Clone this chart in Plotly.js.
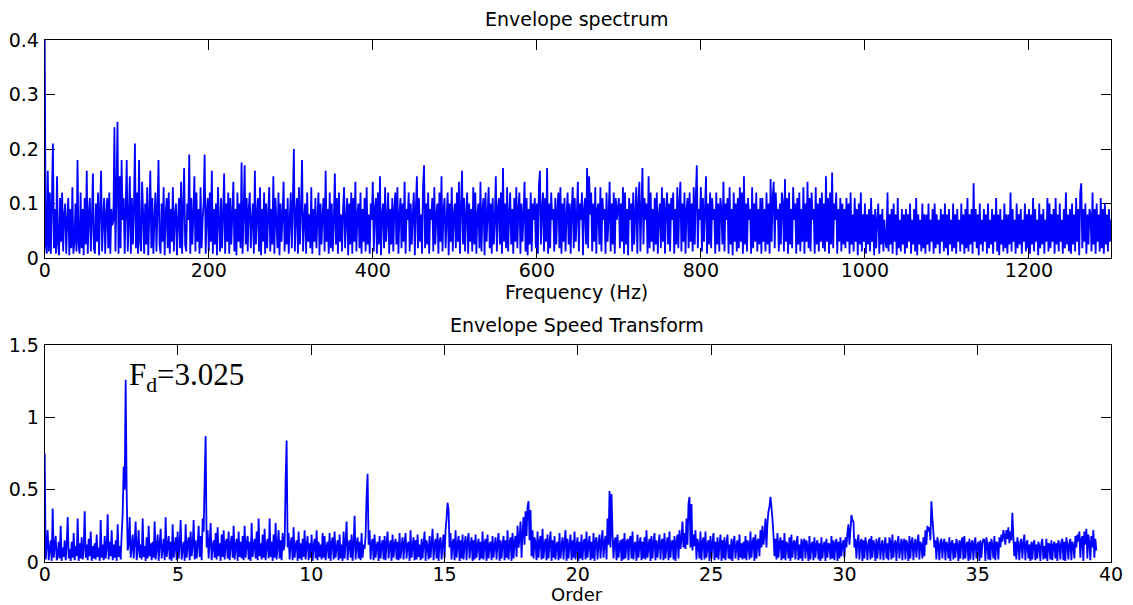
<!DOCTYPE html>
<html>
<head>
<meta charset="utf-8">
<script src="https://cdn.plot.ly/plotly-3.0.1.min.js"></script>
<style>html,body{margin:0;padding:0;background:#fff;}#chart{width:1133px;height:605px;}</style>
</head>
<body>
<div id="chart"></div>
<script>
// Envelope spectrum: amplitude every 1.25 Hz from 0 to 1300 Hz
const freqStart = 0;
const freqStep = 1.25;
const envSpectrum = [
0.40,0.025,0.008,0.16,0.012,0.12,0.008,0.10,0.21,0.018,0.09,0.008,0.15,0.025,0.005,0.11,0.03,0.12,0.012,0.08,
0.10,0.008,0.07,0.11,0.005,0.09,0.018,0.13,0.008,0.03,0.10,0.012,0.18,0.025,0.008,0.12,0.018,0.09,0.005,0.11,
0.025,0.16,0.008,0.08,0.11,0.012,0.07,0.155,0.018,0.008,0.10,0.03,0.12,0.005,0.09,0.16,0.012,0.07,0.11,0.008,
0.08,0.11,0.018,0.12,0.008,0.09,0.06,0.07,0.24,0.012,0.12,0.25,0.008,0.15,0.018,0.18,0.07,0.11,0.008,0.09,
0.18,0.012,0.07,0.15,0.008,0.11,0.025,0.09,0.21,0.018,0.12,0.008,0.18,0.03,0.012,0.14,0.08,0.008,0.10,0.025,
0.13,0.005,0.08,0.16,0.018,0.11,0.008,0.07,0.12,0.012,0.09,0.18,0.025,0.008,0.10,0.03,0.13,0.005,0.08,0.11,
0.018,0.12,0.008,0.09,0.03,0.13,0.012,0.08,0.10,0.005,0.07,0.11,0.018,0.14,0.008,0.09,0.165,0.025,0.012,0.10,
0.07,0.19,0.008,0.11,0.025,0.08,0.15,0.012,0.12,0.03,0.09,0.008,0.13,0.018,0.07,0.10,0.19,0.008,0.08,0.11,
0.012,0.12,0.03,0.16,0.008,0.09,0.025,0.10,0.005,0.13,0.07,0.012,0.11,0.018,0.08,0.155,0.008,0.10,0.03,0.12,
0.008,0.11,0.025,0.08,0.14,0.012,0.09,0.005,0.12,0.03,0.10,0.018,0.175,0.008,0.08,0.17,0.025,0.11,0.012,0.09,
0.12,0.018,0.07,0.10,0.008,0.16,0.025,0.08,0.11,0.012,0.13,0.005,0.09,0.03,0.12,0.008,0.10,0.018,0.08,0.13,
0.012,0.09,0.025,0.15,0.008,0.11,0.07,0.018,0.12,0.005,0.10,0.03,0.08,0.14,0.012,0.09,0.025,0.11,0.008,0.07,
0.12,0.018,0.10,0.20,0.012,0.08,0.11,0.008,0.13,0.025,0.09,0.18,0.012,0.07,0.10,0.008,0.12,0.03,0.08,0.018,
0.13,0.008,0.09,0.03,0.11,0.018,0.07,0.12,0.005,0.10,0.025,0.08,0.11,0.012,0.16,0.03,0.09,0.008,0.12,0.018,
0.10,0.012,0.07,0.155,0.025,0.11,0.008,0.12,0.03,0.08,0.012,0.09,0.13,0.018,0.07,0.11,0.005,0.10,0.025,0.12,
0.008,0.11,0.03,0.14,0.012,0.08,0.10,0.018,0.12,0.008,0.09,0.03,0.11,0.012,0.13,0.025,0.08,0.008,0.10,0.07,
0.14,0.012,0.09,0.11,0.008,0.12,0.025,0.15,0.005,0.08,0.10,0.018,0.13,0.03,0.07,0.12,0.008,0.09,0.025,0.11,
0.012,0.09,0.12,0.025,0.13,0.008,0.08,0.11,0.018,0.10,0.03,0.14,0.008,0.09,0.07,0.12,0.012,0.10,0.025,0.08,
0.12,0.005,0.09,0.15,0.018,0.11,0.03,0.08,0.008,0.13,0.17,0.018,0.10,0.025,0.12,0.008,0.09,0.07,0.11,0.012,
0.13,0.025,0.08,0.10,0.008,0.12,0.03,0.15,0.012,0.09,0.11,0.018,0.07,0.12,0.005,0.10,0.03,0.13,0.012,0.08,
0.10,0.018,0.12,0.03,0.14,0.008,0.09,0.16,0.025,0.11,0.012,0.08,0.12,0.008,0.10,0.03,0.09,0.012,0.13,0.025,
0.12,0.008,0.08,0.10,0.018,0.14,0.012,0.09,0.11,0.005,0.12,0.03,0.08,0.13,0.018,0.10,0.008,0.11,0.025,0.07,
0.15,0.012,0.09,0.11,0.025,0.12,0.008,0.165,0.03,0.10,0.018,0.13,0.012,0.08,0.12,0.025,0.09,0.008,0.11,0.03,
0.13,0.018,0.09,0.12,0.008,0.10,0.03,0.08,0.14,0.012,0.11,0.005,0.09,0.025,0.12,0.012,0.10,0.07,0.11,0.018,
0.10,0.008,0.13,0.16,0.025,0.09,0.12,0.012,0.11,0.03,0.165,0.008,0.10,0.018,0.12,0.07,0.09,0.012,0.11,0.025,
0.09,0.12,0.018,0.13,0.008,0.10,0.03,0.11,0.012,0.08,0.12,0.025,0.10,0.008,0.09,0.13,0.018,0.11,0.03,0.08,
0.14,0.012,0.10,0.07,0.12,0.005,0.09,0.11,0.025,0.165,0.018,0.15,0.08,0.12,0.012,0.10,0.03,0.13,0.008,0.09,
0.10,0.025,0.13,0.012,0.11,0.07,0.09,0.008,0.12,0.03,0.08,0.14,0.012,0.10,0.025,0.12,0.008,0.11,0.07,0.09,
0.11,0.018,0.10,0.03,0.13,0.008,0.12,0.025,0.09,0.005,0.11,0.07,0.10,0.012,0.12,0.025,0.08,0.13,0.008,0.10,
0.14,0.012,0.09,0.165,0.025,0.11,0.07,0.10,0.008,0.15,0.018,0.12,0.03,0.09,0.012,0.11,0.025,0.12,0.008,0.08,
0.10,0.018,0.13,0.03,0.11,0.008,0.09,0.12,0.025,0.10,0.012,0.11,0.07,0.12,0.008,0.09,0.025,0.13,0.018,0.10,
0.14,0.012,0.10,0.03,0.12,0.008,0.09,0.11,0.018,0.12,0.03,0.10,0.012,0.13,0.025,0.11,0.17,0.018,0.09,0.07,
0.13,0.012,0.11,0.03,0.09,0.15,0.008,0.10,0.025,0.12,0.018,0.11,0.07,0.09,0.008,0.12,0.025,0.10,0.012,0.11,
0.09,0.025,0.14,0.012,0.10,0.07,0.11,0.008,0.13,0.025,0.09,0.005,0.12,0.03,0.10,0.012,0.11,0.018,0.13,0.03,
0.12,0.008,0.15,0.025,0.10,0.012,0.11,0.07,0.09,0.008,0.13,0.018,0.10,0.03,0.12,0.012,0.09,0.025,0.11,0.008,
0.11,0.03,0.09,0.012,0.12,0.025,0.10,0.008,0.145,0.03,0.11,0.14,0.018,0.12,0.07,0.09,0.012,0.10,0.025,0.12,
0.10,0.012,0.145,0.03,0.11,0.008,0.12,0.025,0.09,0.018,0.13,0.07,0.10,0.008,0.11,0.025,0.12,0.012,0.09,0.03,
0.13,0.008,0.10,0.03,0.14,0.018,0.11,0.012,0.12,0.07,0.09,0.008,0.13,0.025,0.10,0.012,0.11,0.03,0.12,0.018,
0.10,0.012,0.15,0.03,0.11,0.008,0.12,0.025,0.157,0.018,0.10,0.07,0.12,0.008,0.09,0.03,0.11,0.012,0.10,0.025,
0.09,0.018,0.11,0.03,0.10,0.008,0.12,0.025,0.08,0.012,0.11,0.03,0.09,0.005,0.10,0.025,0.12,0.012,0.08,0.03,
0.10,0.008,0.08,0.025,0.09,0.012,0.11,0.03,0.08,0.005,0.09,0.018,0.07,0.10,0.008,0.08,0.025,0.09,0.012,0.07,
0.03,0.018,0.12,0.012,0.08,0.025,0.09,0.008,0.10,0.03,0.08,0.005,0.11,0.018,0.07,0.012,0.09,0.025,0.08,0.008,
0.09,0.018,0.08,0.03,0.10,0.008,0.07,0.025,0.09,0.012,0.11,0.005,0.08,0.025,0.07,0.012,0.10,0.018,0.08,0.008,
0.08,0.025,0.10,0.012,0.07,0.03,0.09,0.008,0.10,0.018,0.08,0.025,0.07,0.008,0.09,0.03,0.08,0.012,0.10,0.018,
0.08,0.005,0.09,0.025,0.07,0.012,0.10,0.018,0.08,0.008,0.09,0.03,0.07,0.012,0.10,0.025,0.08,0.008,0.09,0.018,
0.11,0.012,0.08,0.025,0.09,0.008,0.137,0.03,0.09,0.018,0.08,0.005,0.10,0.025,0.07,0.012,0.09,0.03,0.08,0.008,
0.10,0.018,0.07,0.025,0.09,0.008,0.08,0.03,0.11,0.012,0.08,0.005,0.09,0.025,0.07,0.012,0.10,0.018,0.08,0.008,
0.08,0.025,0.12,0.012,0.09,0.03,0.07,0.008,0.10,0.018,0.08,0.025,0.09,0.008,0.07,0.03,0.10,0.012,0.08,0.018,
0.09,0.008,0.08,0.025,0.11,0.012,0.09,0.03,0.07,0.005,0.10,0.018,0.08,0.025,0.09,0.008,0.07,0.03,0.11,0.012,
0.10,0.018,0.08,0.03,0.09,0.008,0.11,0.025,0.08,0.012,0.10,0.03,0.07,0.008,0.09,0.018,0.12,0.025,0.08,0.012,
0.09,0.008,0.10,0.025,0.08,0.012,0.11,0.03,0.09,0.005,0.12,0.137,0.018,0.09,0.03,0.10,0.008,0.08,0.025,0.09,
0.08,0.012,0.12,0.025,0.09,0.008,0.10,0.03,0.08,0.012,0.11,0.018,0.09,0.008,0.10,0.025,0.08,0.012,0.09,0.03,
0.07
];

// Envelope speed transform: amplitude every 0.0375 order from 0 to 39.45
const orderStart = 0;
const orderStep = 0.0375;
const envSpeed = [
0.75,0.018,0.12,0.22,0.012,0.09,0.15,0.008,0.37,0.03,0.11,0.18,0.012,0.04,0.14,0.025,0.25,0.008,0.10,0.035,
0.15,0.012,0.12,0.31,0.025,0.09,0.008,0.14,0.03,0.20,0.012,0.11,0.04,0.30,0.008,0.13,0.025,0.17,0.018,0.10,
0.35,0.03,0.12,0.012,0.16,0.04,0.21,0.008,0.11,0.025,0.13,0.018,0.19,0.035,0.10,0.008,0.29,0.03,0.12,0.012,
0.18,0.025,0.10,0.33,0.018,0.14,0.04,0.22,0.012,0.12,0.03,0.15,0.008,0.26,0.035,0.11,0.018,0.19,0.33,0.66,
0.50,1.26,0.48,0.08,0.12,0.31,0.03,0.10,0.19,0.025,0.14,0.28,0.012,0.09,0.22,0.03,0.12,0.018,0.30,0.035,
0.11,0.008,0.17,0.025,0.25,0.04,0.13,0.012,0.14,0.03,0.28,0.018,0.10,0.19,0.008,0.12,0.23,0.025,0.09,0.16,
0.012,0.31,0.035,0.11,0.18,0.018,0.14,0.008,0.26,0.03,0.10,0.17,0.012,0.21,0.025,0.12,0.29,0.018,0.09,0.14,
0.008,0.26,0.03,0.13,0.17,0.012,0.21,0.04,0.11,0.29,0.018,0.15,0.025,0.12,0.25,0.035,0.18,0.012,0.30,0.21,
0.57,0.87,0.10,0.22,0.025,0.14,0.27,0.012,0.11,0.15,0.03,0.20,0.018,0.24,0.04,0.13,0.008,0.19,0.035,0.22,
0.018,0.13,0.16,0.025,0.21,0.012,0.12,0.18,0.03,0.25,0.018,0.11,0.16,0.008,0.21,0.035,0.14,0.025,0.18,0.012,
0.25,0.03,0.12,0.18,0.018,0.14,0.008,0.27,0.035,0.11,0.16,0.025,0.21,0.012,0.30,0.04,0.13,0.018,0.19,0.03,
0.23,0.012,0.12,0.16,0.025,0.30,0.035,0.14,0.008,0.19,0.03,0.27,0.018,0.11,0.22,0.025,0.15,0.012,0.20,0.08,
0.12,0.57,0.84,0.10,0.20,0.018,0.13,0.17,0.012,0.24,0.03,0.11,0.15,0.008,0.21,0.025,0.13,0.012,0.16,0.035,
0.22,0.018,0.12,0.18,0.012,0.13,0.03,0.19,0.008,0.11,0.16,0.025,0.22,0.012,0.14,0.035,0.12,0.018,0.20,0.03,
0.18,0.012,0.11,0.14,0.025,0.20,0.008,0.13,0.17,0.018,0.21,0.03,0.10,0.15,0.012,0.19,0.025,0.12,0.008,0.21,
0.025,0.14,0.28,0.012,0.12,0.15,0.03,0.19,0.008,0.13,0.32,0.018,0.11,0.17,0.025,0.14,0.012,0.20,0.03,0.12,
0.09,0.18,0.46,0.61,0.12,0.22,0.018,0.13,0.16,0.012,0.19,0.03,0.11,0.14,0.008,0.18,0.025,0.12,0.15,0.018,
0.18,0.012,0.13,0.21,0.025,0.11,0.15,0.008,0.19,0.03,0.12,0.16,0.018,0.14,0.012,0.20,0.025,0.11,0.17,0.018,
0.13,0.20,0.025,0.12,0.14,0.008,0.22,0.03,0.11,0.17,0.012,0.15,0.018,0.19,0.035,0.12,0.012,0.16,0.025,0.13,
0.21,0.008,0.15,0.11,0.018,0.18,0.03,0.13,0.23,0.012,0.12,0.16,0.025,0.20,0.008,0.14,0.17,0.018,0.12,0.19,
0.03,0.22,0.30,0.41,0.36,0.10,0.20,0.018,0.13,0.16,0.012,0.22,0.03,0.12,0.18,0.008,0.15,0.025,0.19,0.018,
0.12,0.18,0.012,0.14,0.20,0.025,0.11,0.17,0.008,0.15,0.018,0.19,0.03,0.12,0.16,0.012,0.14,0.025,0.21,0.018,
0.13,0.16,0.008,0.19,0.025,0.12,0.14,0.012,0.18,0.03,0.11,0.17,0.018,0.13,0.20,0.008,0.15,0.025,0.12,0.18,
0.012,0.15,0.03,0.22,0.018,0.13,0.17,0.008,0.20,0.025,0.14,0.18,0.035,0.25,0.10,0.16,0.28,0.03,0.20,0.31,
0.12,0.35,0.18,0.38,0.42,0.15,0.36,0.04,0.22,0.025,0.17,0.13,0.012,0.21,0.03,0.14,0.18,0.018,0.23,0.025,
0.12,0.16,0.012,0.19,0.025,0.13,0.21,0.008,0.15,0.03,0.18,0.018,0.12,0.14,0.012,0.20,0.025,0.11,0.17,0.018,
0.14,0.22,0.008,0.16,0.025,0.12,0.19,0.012,0.15,0.03,0.21,0.018,0.11,0.17,0.008,0.14,0.025,0.19,0.012,0.13,
0.16,0.018,0.21,0.03,0.12,0.18,0.012,0.14,0.025,0.20,0.008,0.15,0.17,0.018,0.12,0.19,0.025,0.14,0.22,0.03,
0.13,0.18,0.018,0.30,0.12,0.49,0.10,0.47,0.20,0.025,0.14,0.17,0.012,0.19,0.03,0.12,0.15,0.008,0.16,0.018,
0.20,0.025,0.13,0.16,0.012,0.15,0.18,0.025,0.21,0.018,0.12,0.14,0.008,0.19,0.03,0.13,0.17,0.012,0.14,0.025,
0.17,0.018,0.22,0.03,0.11,0.16,0.008,0.18,0.025,0.13,0.20,0.012,0.15,0.03,0.12,0.19,0.018,0.14,0.16,0.012,
0.20,0.025,0.12,0.17,0.012,0.21,0.03,0.13,0.15,0.018,0.18,0.008,0.14,0.19,0.025,0.22,0.09,0.16,0.28,0.10,
0.20,0.09,0.30,0.12,0.40,0.45,0.10,0.40,0.08,0.19,0.11,0.22,0.018,0.16,0.12,0.025,0.21,0.012,0.14,0.17,
0.018,0.21,0.03,0.12,0.15,0.008,0.18,0.025,0.13,0.20,0.012,0.14,0.03,0.17,0.018,0.12,0.19,0.008,0.15,0.025,
0.17,0.012,0.13,0.19,0.025,0.12,0.018,0.16,0.008,0.14,0.18,0.025,0.11,0.15,0.012,0.19,0.03,0.13,0.018,0.14,
0.025,0.18,0.012,0.15,0.12,0.018,0.21,0.03,0.13,0.17,0.008,0.19,0.025,0.14,0.16,0.04,0.22,0.10,0.25,0.12,
0.18,0.30,0.10,0.27,0.35,0.38,0.45,0.38,0.30,0.19,0.04,0.16,0.018,0.20,0.03,0.13,0.17,0.012,0.15,0.025,
0.20,0.012,0.14,0.12,0.025,0.17,0.008,0.19,0.03,0.13,0.15,0.018,0.13,0.18,0.012,0.12,0.025,0.16,0.008,0.14,
0.16,0.025,0.15,0.11,0.008,0.18,0.018,0.12,0.14,0.012,0.17,0.03,0.12,0.15,0.018,0.13,0.008,0.17,0.025,0.11,
0.14,0.008,0.16,0.03,0.13,0.12,0.018,0.18,0.025,0.15,0.012,0.13,0.16,0.008,0.14,0.025,0.17,0.04,0.12,0.15,
0.03,0.17,0.10,0.20,0.26,0.12,0.22,0.325,0.29,0.28,0.10,0.16,0.025,0.14,0.19,0.018,0.13,0.16,0.008,0.15,
0.025,0.17,0.12,0.012,0.13,0.16,0.018,0.18,0.03,0.15,0.12,0.008,0.16,0.025,0.13,0.17,0.018,0.12,0.15,0.012,
0.12,0.17,0.025,0.13,0.012,0.17,0.14,0.018,0.19,0.03,0.12,0.15,0.008,0.13,0.18,0.025,0.11,0.16,0.012,0.14,
0.16,0.018,0.15,0.12,0.008,0.18,0.025,0.14,0.17,0.012,0.12,0.16,0.03,0.13,0.19,0.018,0.14,0.12,0.025,0.17,
0.04,0.22,0.12,0.25,0.21,0.24,0.15,0.42,0.30,0.21,0.10,0.15,0.018,0.17,0.12,0.012,0.14,0.16,0.025,0.13,
0.16,0.012,0.14,0.12,0.025,0.17,0.008,0.13,0.15,0.018,0.13,0.03,0.16,0.12,0.008,0.15,0.025,0.14,0.17,0.018,
0.18,0.025,0.12,0.14,0.008,0.16,0.018,0.13,0.15,0.012,0.13,0.17,0.025,0.12,0.14,0.008,0.15,0.03,0.13,0.16,
0.15,0.008,0.17,0.12,0.018,0.14,0.012,0.16,0.12,0.025,0.18,0.012,0.14,0.13,0.018,0.17,0.10,0.19,0.14,0.22,
0.18,0.12,0.22,0.16,0.24,0.13,0.21,0.15,0.34,0.17,0.04,0.14,0.018,0.17,0.12,0.012,0.14,0.16,0.025,0.13,
0.19,0.012,0.13,0.15,0.025,0.12,0.008,0.14,0.018,0.13,0.15,0.012,0.12,0.025,0.14,0.11,0.008,0.13,0.16,0.018,
0.11,0.025,0.16,0.008,0.13,0.12,0.018,0.15,0.012,0.12,0.14,0.025,0.13,0.008,0.15,0.12,0.018,0.14,0.16,0.012,
0.14,0.008,0.17,0.12,0.018,0.13,0.16,0.012,0.14,0.12,0.025,0.18,0.10,0.19,0.14,0.21,0.03,0.16,0.18,0.008,
0.21,0.12,0.23,0.025,0.19,0.14,0.012,0.18,0.10,0.22,0.03,0.16,0.08
];

const topTitle = 'Envelope spectrum';
const bottomTitle = 'Envelope Speed Transform';
const topXLabel = 'Frequency (Hz)';
const bottomXLabel = 'Order';
const peakLabel = 'F<sub>d</sub>=3.025';
const peakPos = [3.1, 1.28];

const sansFont = {family: 'DejaVu Sans, Arial, sans-serif', size: 19, color: '#000'};

const axisBase = {
  showline: true, linecolor: '#000', linewidth: 1, mirror: 'ticks',
  ticks: 'inside', ticklen: 10, tickwidth: 1, tickcolor: '#000',
  showgrid: false, zeroline: false, tickfont: sansFont, automargin: false
};

const data = [
  {type: 'scatter', mode: 'lines', x0: freqStart, dx: freqStep, y: envSpectrum,
   xaxis: 'x', yaxis: 'y', line: {color: '#0000ff', width: 1.8, simplify: false}, hoverinfo: 'skip', cliponaxis: false},
  {type: 'scatter', mode: 'lines', x0: orderStart, dx: orderStep, y: envSpeed,
   xaxis: 'x2', yaxis: 'y2', line: {color: '#0000ff', width: 1.8, simplify: false}, hoverinfo: 'skip', cliponaxis: false}
];

const xd = [44.7/1133, 1111/1133];
const layout = {
  width: 1133, height: 605,
  margin: {l: 0, r: 0, t: 0, b: 0},
  paper_bgcolor: '#fff', plot_bgcolor: '#fff',
  showlegend: false,
  xaxis: Object.assign({}, axisBase, {domain: xd, range: [0, 1300], dtick: 200, tick0: 0, anchor: 'y', ticklabelstandoff: -5}),
  yaxis: Object.assign({}, axisBase, {domain: [1-258/605, 1-40/605], range: [0, 0.4], dtick: 0.1, tick0: 0, anchor: 'x', ticklabelstandoff: 1, layer: 'below traces'}),
  xaxis2: Object.assign({}, axisBase, {domain: xd, range: [0, 40], dtick: 5, tick0: 0, anchor: 'y2', ticklabelstandoff: -5}),
  yaxis2: Object.assign({}, axisBase, {domain: [1-562/605, 1-345/605], range: [0, 1.5], dtick: 0.5, tick0: 0, anchor: 'x2', ticklabelstandoff: 1, layer: 'below traces'}),
  annotations: [
    {text: topTitle, xref: 'paper', yref: 'paper', x: 577/1133, y: 1-19/605, xanchor: 'center', yanchor: 'middle', showarrow: false, font: sansFont},
    {text: topXLabel, xref: 'paper', yref: 'paper', x: 577/1133, y: 1-292/605, xanchor: 'center', yanchor: 'middle', showarrow: false, font: sansFont},
    {text: bottomTitle, xref: 'paper', yref: 'paper', x: 577/1133, y: 1-325/605, xanchor: 'center', yanchor: 'middle', showarrow: false, font: sansFont},
    {text: bottomXLabel, xref: 'paper', yref: 'paper', x: 577/1133, y: 1-594/605, xanchor: 'center', yanchor: 'middle', showarrow: false,
     font: {family: 'DejaVu Sans, Arial, sans-serif', size: 18, color: '#000'}},
    {text: peakLabel, xref: 'x2', yref: 'y2', x: peakPos[0], y: peakPos[1], xanchor: 'left', yanchor: 'middle', showarrow: false,
     font: {family: 'Liberation Serif, Times New Roman, serif', size: 31, color: '#000'}}
  ]
};

Plotly.newPlot('chart', data, layout, {staticPlot: true, displayModeBar: false});
</script>
</body>
</html>
